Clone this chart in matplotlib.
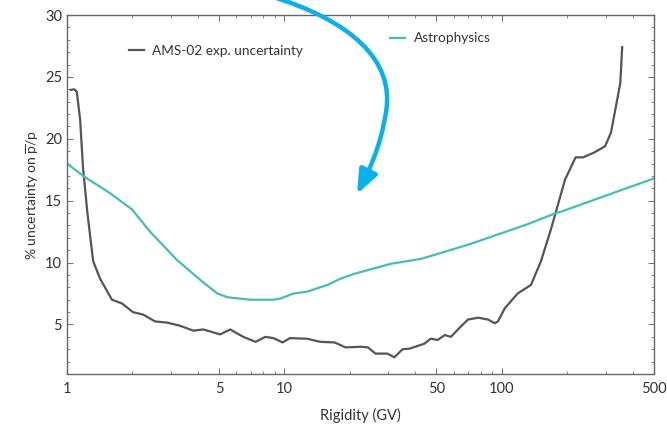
import numpy as np
import matplotlib.pyplot as plt
from matplotlib.path import Path
from matplotlib.patches import FancyArrowPatch
from matplotlib.ticker import FixedLocator, NullFormatter, MultipleLocator

plt.rcParams['font.family'] = ['Lato', 'DejaVu Sans']
plt.rcParams['mathtext.fontset'] = 'custom'
plt.rcParams['mathtext.rm'] = 'Lato'

# AMS-02 experimental uncertainty on pbar/p
ams_rig = [1.04, 1.08, 1.11, 1.15, 1.185, 1.24, 1.32, 1.42, 1.61, 1.79, 2.01, 2.24, 2.54,
           2.89, 3.31, 3.81, 4.23, 5.06, 5.63, 6.47, 7.36, 8.17, 8.9, 9.8, 10.6, 12.7,
           14.6, 17.0, 19.1, 22.4, 24.2, 26.2, 29.7, 32.0, 34.9, 37.6, 44.0, 47.0, 50.6,
           54.6, 58.2, 64.8, 69.8, 77.7, 86.2, 92.7, 95.8, 103, 118, 136, 151, 168, 177,
           195, 218, 236, 266, 298, 317, 334, 350, 357]
ams_unc = [23.95, 24.0, 23.8, 21.5, 17.7, 14.1, 10.1, 8.7, 7.0, 6.7, 6.0, 5.8, 5.25,
           5.15, 4.9, 4.5, 4.6, 4.2, 4.6, 4.0, 3.6, 4.0, 3.9, 3.55, 3.9, 3.85,
           3.6, 3.55, 3.15, 3.2, 3.15, 2.65, 2.65, 2.35, 3.0, 3.05, 3.45, 3.85, 3.75,
           4.15, 4.0, 4.85, 5.4, 5.55, 5.4, 5.1, 5.25, 6.3, 7.5, 8.2, 10.1, 12.7, 14.1,
           16.7, 18.5, 18.5, 18.9, 19.4, 20.5, 22.6, 24.5, 27.4]

# astrophysical uncertainty
astro_rig = [1.0, 1.21, 1.58, 1.99, 2.41, 3.21, 4.1, 4.92, 5.47, 6.98, 8.9, 9.6, 11.0,
             12.7, 15.8, 18.1, 21.0, 30.8, 42.4, 50.6, 71.5, 98.6, 131, 177, 186, 500]
astro_unc = [18.0, 16.9, 15.6, 14.3, 12.5, 10.2, 8.6, 7.5, 7.2, 7.0, 7.0, 7.1, 7.5,
             7.65, 8.2, 8.7, 9.1, 9.9, 10.3, 10.7, 11.5, 12.35, 13.1, 14.0, 14.1, 16.8]

x_ticks = [1, 5, 10, 50, 100, 500]
y_ticks = [5, 10, 15, 20, 25, 30]

dark = '#555555'
teal = '#45bcbc'

fig = plt.figure(figsize=(6.67, 4.24), dpi=100)
ax = fig.add_axes([0.1004, 0.1179, 0.8801, 0.8467])

l_ams, = ax.plot(ams_rig, ams_unc, color=dark, lw=1.6, solid_joinstyle='round')
l_astro, = ax.plot(astro_rig, astro_unc, color=teal, lw=1.6, solid_joinstyle='round')

ax.set_xscale('log')
ax.set_xlim(1, 500)
ax.set_ylim(1, 30)
ax.xaxis.set_major_locator(FixedLocator(x_ticks))
ax.set_xticklabels([str(t) for t in x_ticks])
ax.xaxis.set_minor_formatter(NullFormatter())
ax.yaxis.set_major_locator(FixedLocator(y_ticks))
ax.yaxis.set_minor_locator(MultipleLocator(1))

for s in ax.spines.values():
    s.set_color('#666666')
    s.set_linewidth(1.0)
ax.tick_params(which='both', direction='in', top=True, right=True, colors='#777777',
               labelcolor='#333333', labelsize=10.5)
ax.tick_params(which='major', length=4)
ax.tick_params(which='minor', length=2.5)
ax.tick_params(axis='x', pad=6)

ax.set_xlabel('Rigidity (GV)', fontsize=10.5, color='#333333', labelpad=8)
ax.set_ylabel(r'% uncertainty on $\mathregular{\overline{p}}$/p', fontsize=10,
              color='#333333', labelpad=2)

leg1 = ax.legend([l_ams], ['AMS-02 exp. uncertainty'], frameon=False, fontsize=9.8,
                 loc='center left', bbox_to_anchor=(0.085, 0.90), handlelength=1.1,
                 handletextpad=0.6, labelcolor='#333333')
ax.add_artist(leg1)
ax.legend([l_astro], ['Astrophysics'], frameon=False, fontsize=9.8,
          loc='center left', bbox_to_anchor=(0.53, 0.935), handlelength=1.1,
          handletextpad=0.6, labelcolor='#333333')

# curved blue arrow drawn in figure pixel space
W, H = 667, 424
pts = [(270, -4), (350, 20), (395, 60), (386, 112), (380, 150), (368, 172), (357, 194)]
verts = [(px / W, 1 - py / H) for px, py in pts]
codes = [Path.MOVETO] + [Path.CURVE4] * 6
arrow = FancyArrowPatch(path=Path(verts, codes), transform=fig.transFigure,
                        arrowstyle='-|>,head_length=0.9,head_width=0.36',
                        mutation_scale=16, color='#0bafe9', lw=3.2, clip_on=False)
fig.add_artist(arrow)

fig.savefig('out.png', dpi=100)
